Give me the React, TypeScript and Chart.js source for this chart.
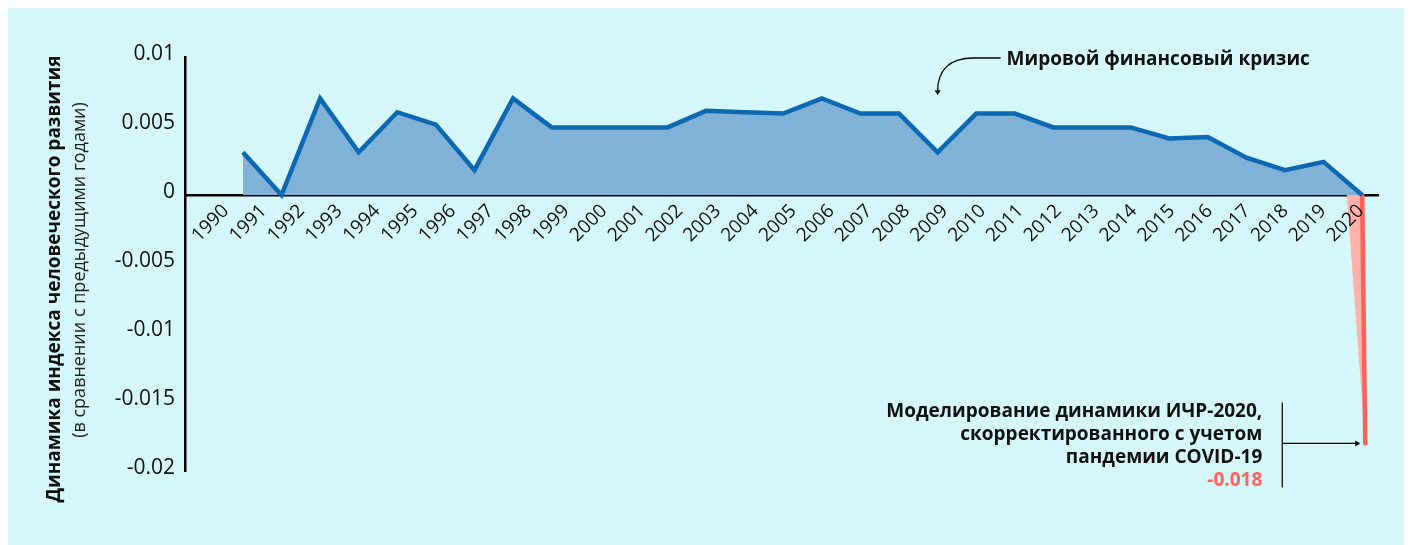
import React, { useEffect, useRef } from 'react';
import { Chart, registerables } from 'chart.js';

Chart.register(...registerables);

const FONT = '"Open Sans", "Noto Sans", sans-serif';

const labelYears = [
  1990, 1991, 1992, 1993, 1994, 1995, 1996, 1997, 1998, 1999, 2000, 2001, 2002, 2003, 2004, 2005,
  2006, 2007, 2008, 2009, 2010, 2011, 2012, 2013, 2014, 2015, 2016, 2017, 2018, 2019, 2020,
];
const dataYears = [
  1991, 1992, 1993, 1994, 1995, 1996, 1997, 1998, 1999, 2000, 2001, 2002, 2003, 2004, 2005,
  2006, 2007, 2008, 2009, 2010, 2011, 2012, 2013, 2014, 2015, 2016, 2017, 2018, 2019, 2020,
];
const hdiChange = [
  0.0031, 0.0, 0.007, 0.0031, 0.006, 0.0051, 0.0018, 0.007, 0.0049, 0.0049, 0.0049, 0.0049,
  0.0061, 0.006, 0.0059, 0.007, 0.0059, 0.0059, 0.0031, 0.0059, 0.0059, 0.0049, 0.0049, 0.0049,
  0.0041, 0.0042, 0.0027, 0.0018, 0.0024, 0.0,
];
const covidYears = [2020, 2020.08];
const covidValues = [0, -0.018];
const covidShadeYears = [2019.6, 2020.08, 2020];
const covidShadeValues = [0, -0.018, 0];
const yTicks = [0.01, 0.005, 0, -0.005, -0.01, -0.015, -0.02];

const crisisYear = 2009;
const crisisText = 'Мировой финансовый кризис';
const covidText = [
  'Моделирование динамики ИЧР-2020,',
  'скорректированного с учетом',
  'пандемии COVID-19',
];
const covidValueText = '-0.018';
const yTitleMain = 'Динамика индекса человеческого развития';
const yTitleSub = '(в сравнении с предыдущими годами)';

const BLUE = '#0b68b1';
const BLUE_FILL = '#80b2d8';
const RED = '#ff6159';
const PINK = '#ffb2ad';
const TEXT = '#111111';

const annotationPlugin = {
  id: 'customAnnotations',
  afterDraw(chart: any) {
    const ctx = chart.ctx as CanvasRenderingContext2D;
    const xs = chart.scales.x;
    const ys = chart.scales.y;

    // Y-axis title (two lines)
    ctx.save();
    ctx.fillStyle = TEXT;
    ctx.textAlign = 'center';
    ctx.textBaseline = 'middle';
    ctx.translate(47, 271);
    ctx.rotate(-Math.PI / 2);
    ctx.font = `bold 19px ${FONT}`;
    ctx.fillText(yTitleMain, 0, 0);
    ctx.restore();

    ctx.save();
    ctx.fillStyle = '#222';
    ctx.textAlign = 'center';
    ctx.textBaseline = 'middle';
    ctx.translate(72, 262);
    ctx.rotate(-Math.PI / 2);
    ctx.font = `18px ${FONT}`;
    ctx.fillText(yTitleSub, 0, 0);
    ctx.restore();

    // Crisis annotation
    const tipX = xs.getPixelForValue(crisisYear);
    const tipY = ys.getPixelForValue(0.0073);
    const topY = 50;
    ctx.save();
    ctx.strokeStyle = '#000';
    ctx.fillStyle = '#000';
    ctx.lineWidth = 1.3;
    ctx.beginPath();
    ctx.moveTo(tipX + 63, topY);
    ctx.lineTo(tipX + 36, topY);
    ctx.bezierCurveTo(tipX + 10, topY, tipX, topY + 14, tipX, tipY - 3);
    ctx.stroke();
    ctx.beginPath();
    ctx.moveTo(tipX - 3, tipY - 4);
    ctx.lineTo(tipX + 3, tipY - 4);
    ctx.lineTo(tipX, tipY + 1);
    ctx.closePath();
    ctx.fill();
    ctx.font = `bold 19px ${FONT}`;
    ctx.fillStyle = TEXT;
    ctx.textAlign = 'left';
    ctx.textBaseline = 'middle';
    ctx.fillText(crisisText, tipX + 69, topY + 2);
    ctx.restore();

    // COVID annotation
    const endX = xs.getPixelForValue(covidYears[1]);
    const endY = ys.getPixelForValue(covidValues[1]);
    const vx = endX - 83;
    ctx.save();
    ctx.strokeStyle = '#000';
    ctx.fillStyle = '#000';
    ctx.lineWidth = 1.2;
    ctx.beginPath();
    ctx.moveTo(vx, endY - 41);
    ctx.lineTo(vx, endY + 44);
    ctx.moveTo(vx, endY);
    ctx.lineTo(endX - 9, endY);
    ctx.stroke();
    ctx.beginPath();
    ctx.moveTo(endX - 5, endY);
    ctx.lineTo(endX - 10, endY - 3);
    ctx.lineTo(endX - 10, endY + 3);
    ctx.closePath();
    ctx.fill();
    ctx.font = `bold 19px ${FONT}`;
    ctx.textAlign = 'right';
    ctx.textBaseline = 'middle';
    ctx.fillStyle = TEXT;
    const offs = [-32, -9, 14];
    covidText.forEach((t, i) => ctx.fillText(t, vx - 20, endY + offs[i]));
    ctx.fillStyle = RED;
    ctx.fillText(covidValueText, vx - 20, endY + 37);
    ctx.restore();
  },
};

export default function App() {
  const canvasRef = useRef<HTMLCanvasElement | null>(null);

  useEffect(() => {
    if (!canvasRef.current) return;
    const chart = new Chart(canvasRef.current, {
      type: 'line',
      data: {
        datasets: [
          {
            label: 'ИЧР',
            data: dataYears.map((yr, i) => ({ x: yr, y: hdiChange[i] })),
            xAxisID: 'x',
            yAxisID: 'y',
            borderColor: BLUE,
            borderWidth: 4.5,
            backgroundColor: BLUE_FILL,
            fill: 'origin',
            pointRadius: 0,
            tension: 0,
            order: 1,
          },
          {
            label: 'shade',
            data: covidShadeYears.map((yr, i) => ({ x: yr, y: covidShadeValues[i] })),
            xAxisID: 'x',
            yAxisID: 'y',
            borderWidth: 0,
            borderColor: 'rgba(0,0,0,0)',
            backgroundColor: PINK,
            fill: 'shape',
            pointRadius: 0,
            order: 3,
          },
          {
            label: 'COVID',
            data: covidYears.map((yr, i) => ({ x: yr, y: covidValues[i] })),
            xAxisID: 'x',
            yAxisID: 'y',
            borderColor: RED,
            borderWidth: 4.5,
            borderCapStyle: 'round',
            fill: false,
            pointRadius: 0,
            order: 2,
          },
        ],
      },
      options: {
        animation: false,
        responsive: true,
        maintainAspectRatio: false,
        layout: { padding: { top: 49, right: 26, bottom: 74, left: 0 } },
        plugins: { legend: { display: false }, tooltip: { enabled: false } },
        scales: {
          x: {
            type: 'linear',
            display: false,
            min: 1989.5,
            max: 2020.41,
          },
          xl: {
            type: 'linear',
            axis: 'x',
            position: { y: 0 },
            min: 1988.92,
            max: 2020.45,
            afterBuildTicks: (scale: any) => {
              scale.ticks = labelYears.map((v) => ({ value: v }));
            },
            grid: { display: false, drawTicks: false },
            border: { display: true, color: '#000', width: 2.5, z: 0 },
            ticks: {
              z: 1,
              autoSkip: false,
              maxRotation: 45,
              minRotation: 45,
              padding: 5,
              color: TEXT,
              font: { family: FONT, size: 19 },
              callback: (v: any) => String(v),
            },
          },
          y: {
            type: 'linear',
            position: 'left',
            min: -0.02,
            max: 0.01,
            afterBuildTicks: (scale: any) => {
              scale.ticks = yTicks.map((v) => ({ value: v }));
            },
            afterFit: (scale: any) => {
              scale.width = 177;
            },
            grid: { display: false, drawTicks: false },
            border: { display: true, color: '#000', width: 2.5 },
            ticks: {
              padding: 10,
              labelOffset: -3,
              color: TEXT,
              font: { family: FONT, size: 21 },
              callback: (v: any) => String(v),
            },
          },
        },
      },
      plugins: [annotationPlugin],
    });
    return () => chart.destroy();
  }, []);

  return (
    <div style={{ background: '#d5f7fa', height: 537, position: 'relative' }}>
      <canvas ref={canvasRef} />
    </div>
  );
}
